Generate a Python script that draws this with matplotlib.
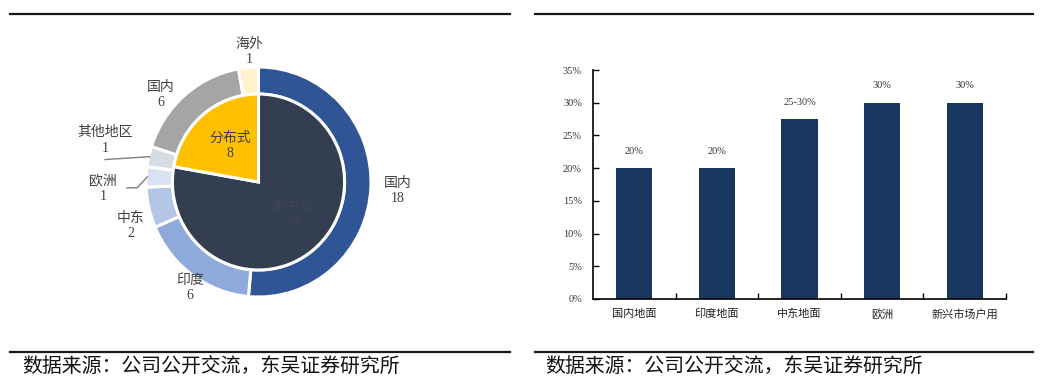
import numpy as np
import matplotlib
matplotlib.use("Agg")
import matplotlib.pyplot as plt
from matplotlib.lines import Line2D

# ---------------- data ----------------
outer_labels = ["国内", "印度", "中东", "欧洲", "其他地区", "国内", "海外"]
outer_values = [18, 6, 2, 1, 1, 6, 1]
inner_labels = ["集中式", "分布式"]
inner_values = [28, 8]

bar_categories = ["国内地面", "印度地面", "中东地面", "欧洲", "新兴市场户用"]
bar_values = [0.20, 0.20, 0.275, 0.30, 0.30]
bar_text = ["20%", "20%", "25-30%", "30%", "30%"]
y_ticks = [0, 0.05, 0.10, 0.15, 0.20, 0.25, 0.30, 0.35]
source_text = "数据来源：公司公开交流，东吴证券研究所"

# ---------------- style ----------------
outer_colors = ["#2f5597", "#8eaadb", "#b4c6e7", "#dae3f3", "#d6dce4", "#a5a5a5", "#fff2cc"]
inner_colors = ["#333f50", "#ffc000"]
inner_text_colors = ["#3e4452", "#404040"]
# label placement: (radial distance, angle tweak in degrees)
outer_label_pos = [(1.24, -1.0), (1.105, 2.6), (1.196, 5.8), (1.383, 5.0),
                   (1.412, -2.0), (1.151, 7.8), (1.133, -0.8)]
inner_label_pos = [(0.407, 7.0), (0.403, -1.0)]
mixed_font = ["Liberation Serif", "Noto Sans CJK SC"]
label_color = "#404040"

W, H = 1042, 385
fig = plt.figure(figsize=(W / 100, H / 100), dpi=100)

# ---------------- frame lines & source ----------------
def hline(x0, x1, y):
    fig.add_artist(Line2D([x0 / W, x1 / W], [1 - y / H, 1 - y / H],
                          color="#1a1a1a", lw=1.6, transform=fig.transFigure))

for (x0, x1) in [(10, 510), (535, 1033)]:
    hline(x0, x1, 14)
    hline(x0, x1, 352)

fig.text(22 / W, 1 - 367 / H, source_text, fontsize=14.3, color="#111111",
         family=["Noto Sans CJK SC"], ha="left", va="center")
fig.text(545 / W, 1 - 367 / H, source_text, fontsize=14.3, color="#111111",
         family=["Noto Sans CJK SC"], ha="left", va="center")

# ---------------- nested pie ----------------
cx, cy, rx, ry, L = 258.5, 182.0, 112.5, 115.0, 1.55
aw, ah = 2 * L * rx, 2 * L * ry
axp = fig.add_axes([(cx - aw / 2) / W, (H - cy - ah / 2) / H, aw / W, ah / H])
axp.set_xlim(-L, L)
axp.set_ylim(-L, L)
axp.axis("off")

wo, _ = axp.pie(outer_values, colors=outer_colors, startangle=90, counterclock=False,
                radius=1.0, wedgeprops=dict(width=0.235, edgecolor="white", linewidth=2.2))
wi, _ = axp.pie(inner_values, colors=inner_colors, startangle=90, counterclock=False,
                radius=0.765, wedgeprops=dict(edgecolor="white", linewidth=2.2))
axp.set_xlim(-L, L)
axp.set_ylim(-L, L)
axp.set_aspect("auto")

def mid_angle(w):
    return np.deg2rad((w.theta1 + w.theta2) / 2)

for w, lab, val, (d, tw) in zip(wo, outer_labels, outer_values, outer_label_pos):
    a = mid_angle(w) + np.deg2rad(tw)
    axp.text(d * np.cos(a), d * np.sin(a), f"{lab}\n{val}", ha="center", va="center",
             fontsize=10, color=label_color, family=mixed_font, linespacing=1.25)

for w, lab, val, (d, tw), tc in zip(wi, inner_labels, inner_values, inner_label_pos, inner_text_colors):
    a = mid_angle(w) + np.deg2rad(tw)
    axp.text(d * np.cos(a), d * np.sin(a), f"{lab}\n{val}", ha="center", va="center",
             fontsize=10, color=tc, family=mixed_font, linespacing=1.25)

# leader lines for the two small wedges (其他地区, 欧洲)
a_other = mid_angle(wo[4])
p0 = np.array([0.99 * np.cos(a_other), 0.99 * np.sin(a_other)])
axp.plot([p0[0], -1.364], [p0[1], p0[1] - 0.025], color="#7f7f7f", lw=1.0)
a_eu = mid_angle(wo[3])
q0 = np.array([0.99 * np.cos(a_eu), 0.99 * np.sin(a_eu)])
axp.plot([q0[0], q0[0] - 0.09, q0[0] - 0.18], [q0[1], q0[1] - 0.095, q0[1] - 0.095],
         color="#7f7f7f", lw=1.0)

# ---------------- bar chart ----------------
x_left, x_right, y_bot, y_top = 593, 1006, 299, 70
axb = fig.add_axes([x_left / W, (H - y_bot) / H, (x_right - x_left) / W, (y_bot - y_top) / H])
x = np.arange(len(bar_categories))
bars = axb.bar(x, bar_values, width=0.44, color="#17375e")
axb.set_xlim(-0.5, len(bar_categories) - 0.5)
axb.set_ylim(0, 0.35)
axb.set_yticks(y_ticks)
axb.set_yticklabels([f"{int(round(v * 100))}%" for v in y_ticks],
                    family=["Liberation Serif"], fontsize=7.5, color="#333333")
axb.set_xticks(x)
axb.set_xticklabels(bar_categories, family=["Noto Sans CJK SC"], fontsize=8, color="#222222")
axb.set_xticks(np.arange(0.5, len(bar_categories)), minor=True)
axb.tick_params(axis="x", which="major", length=0, pad=7)
axb.tick_params(axis="x", which="minor", direction="in", length=4, width=1)
axb.tick_params(axis="y", which="major", direction="in", length=4, width=1, pad=8)
for s in ["top", "right"]:
    axb.spines[s].set_visible(False)
for s in ["left", "bottom"]:
    axb.spines[s].set_linewidth(1.2)
    axb.spines[s].set_color("#000000")

for b, t in zip(bars, bar_text):
    axb.annotate(t, (b.get_x() + b.get_width() / 2, b.get_height()),
                 xytext=(0, 9), textcoords="offset points", ha="center", va="bottom",
                 family=["Liberation Serif"], fontsize=7.5, color="#333333")

fig.savefig("out.png", dpi=100)
